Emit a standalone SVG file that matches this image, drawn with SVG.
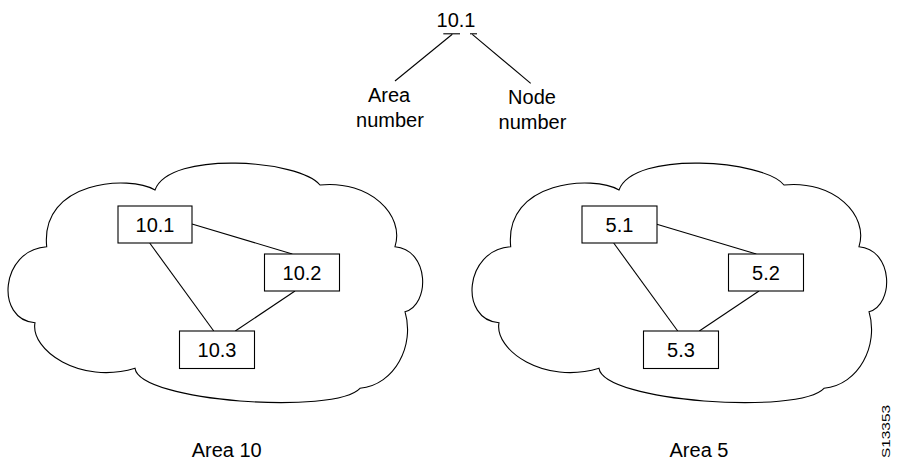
<svg xmlns="http://www.w3.org/2000/svg" width="911" height="461" viewBox="0 0 911 461">
<style>
text{font-family:"Liberation Sans",Arial,sans-serif;font-size:20px;fill:#000}
.c{text-anchor:middle}
.ln{stroke:#000;stroke-width:1.1;fill:none}
.box{fill:#fff;stroke:#000;stroke-width:1.1}
.cloud{fill:#fff;stroke:#000;stroke-width:1.1}
</style>
<defs>
<path id="cloudShape" d="M46.7,246.7 C0,250 -5,320 35,322.7 C30,350 80,385 135,368.3 C140,402 335,415 360,388.3 C395,385 415,345 405,311.7 C430,305 430,250 395,246.7 C405,215 370,180 320,185 C300,160 170,150 155,190 C130,175 40,180 46.7,246.7 Z"/>
</defs>

<g id="legend">
<text class="c" x="456" y="26.7">10.1</text>
<line class="ln" x1="443.3" y1="33.8" x2="460" y2="33.8"/>
<line class="ln" x1="470" y1="33.8" x2="477" y2="33.8"/>
<text class="c" x="389" y="102">Area</text>
<text class="c" x="390" y="127">number</text>
<text class="c" x="532" y="104">Node</text>
<text class="c" x="532.5" y="129">number</text>
</g>

<g id="cloud-area10">
<use href="#cloudShape" class="cloud"/>
</g>
<g id="cloud-area5" transform="translate(464,0)">
<use href="#cloudShape" class="cloud"/>
</g>

<g id="connectors">
<line class="ln" x1="452.3" y1="34.3" x2="395" y2="81"/>
<line class="ln" x1="472.3" y1="34.3" x2="530.7" y2="83.3"/>
<line class="ln" x1="192" y1="224" x2="292.3" y2="254"/>
<line class="ln" x1="149.7" y1="243" x2="213.7" y2="331"/>
<line class="ln" x1="295" y1="291" x2="235.3" y2="331"/>
<line class="ln" x1="656" y1="224" x2="756.3" y2="254"/>
<line class="ln" x1="613.7" y1="243" x2="677.7" y2="331"/>
<line class="ln" x1="759" y1="291" x2="699.3" y2="331"/>
</g>

<g id="node-10-1"><rect class="box" x="118" y="206" width="74" height="37"/><text class="c" x="155" y="231.5">10.1</text></g>
<g id="node-10-2"><rect class="box" x="264.5" y="254" width="75" height="37"/><text class="c" x="302" y="279.5">10.2</text></g>
<g id="node-10-3"><rect class="box" x="179.5" y="331" width="75" height="37.5"/><text class="c" x="217" y="356.5">10.3</text></g>

<g id="node-5-1"><rect class="box" x="582" y="206" width="75" height="37"/><text class="c" x="619.5" y="231.5">5.1</text></g>
<g id="node-5-2"><rect class="box" x="728.5" y="254" width="75" height="37"/><text class="c" x="766" y="279.5">5.2</text></g>
<g id="node-5-3"><rect class="box" x="643.5" y="331" width="75" height="37.5"/><text class="c" x="681" y="356.5">5.3</text></g>

<g id="labels">
<text class="c" x="226.7" y="456.5">Area 10</text>
<text class="c" x="699" y="456.5">Area 5</text>
<text x="890" y="458" transform="rotate(-90 890 458)" style="font-size:10px" textLength="53" lengthAdjust="spacingAndGlyphs">S13353</text>
</g>
</svg>
